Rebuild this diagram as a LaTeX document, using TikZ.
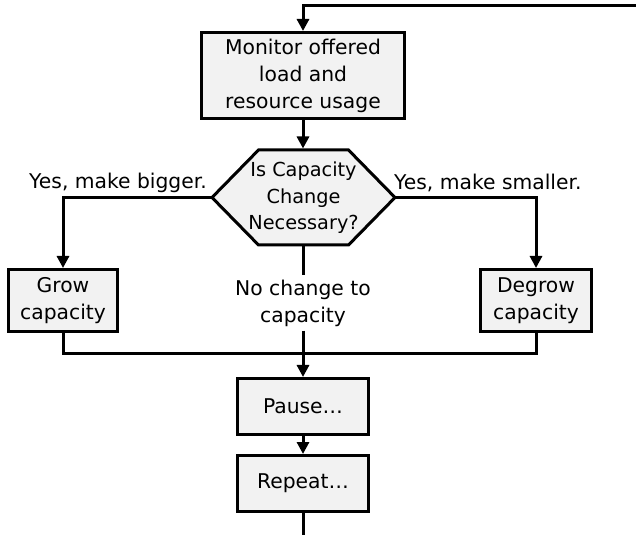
\documentclass[tikz,border=0pt]{standalone}
\usepackage{fontspec}
\setmainfont{DejaVu Sans}
\usetikzlibrary{arrows.meta}
\definecolor{boxfill}{HTML}{F2F2F2}
\begin{document}
\begin{tikzpicture}[x=1pt,y=1pt,
  every node/.style={font=\fontsize{20.3}{27}\selectfont},
  box/.style={draw=black,line width=3pt,fill=boxfill,align=center,inner sep=0pt},
  conn/.style={line width=3pt},
  arr/.style={conn,-{Triangle[width=12pt,length=12pt]}},
  lab/.style={inner sep=0pt}]
\useasboundingbox (0,0) rectangle (636,535);
% boxes
\node[box,minimum width=203pt,minimum height=86pt] (mon) at (303,459.5) {Monitor offered\\load and\\resource usage};
\node[box,minimum width=109pt,minimum height=62pt] (grow) at (63,234.5) {Grow\\capacity};
\node[box,minimum width=111pt,minimum height=62pt] (degrow) at (536,234.5) {Degrow\\capacity};
\node[box,minimum width=131pt,minimum height=56pt] (pause) at (303,128.5) {Pause\ldots};
\node[box,minimum width=131pt,minimum height=56pt] (repeat) at (303,51.5) {Repeat\ldots};
% decision hexagon
\coordinate (hL) at (212,337.5);
\coordinate (hR) at (395,337.5);
\coordinate (hT) at (303,386.5);
\coordinate (hB) at (303,288.5);
\draw[box] (hL) -- (258.5,385) -- (348.5,385) -- (hR) -- (348.5,290) -- (258.5,290) -- cycle;
\node[lab,align=center,font=\fontsize{19.3}{26.5}\selectfont] (dec) at (303.5,337) {Is Capacity\\Change\\Necessary?};
% labels
\node[lab,anchor=base east] (ybig) at (207,346) {Yes, make bigger.};
\node[lab,anchor=base west] (ysmall) at (394,345) {Yes, make smaller.};
\node[lab,align=center,inner sep=4pt] (nochg) at (303,232) {No change to\\capacity};
% connectors
\coordinate (topR) at (636,529);
\coordinate (m) at (303,181);
\coordinate (bot) at (303,0);
\draw[arr] (topR) -| (mon.north);
\draw[arr] (mon.south) -- (hT);
\draw[arr] (hL) -| (grow.north);
\draw[arr] (hR) -| (degrow.north);
\draw[conn] (hB) -- (nochg.north);
\draw[conn] (nochg.south) -- (m);
\draw[conn] (grow.south) |- (m);
\draw[conn] (degrow.south) |- (m);
\draw[arr] (m) -- (pause.north);
\draw[arr] (pause.south) -- (repeat.north);
\draw[conn] (repeat.south) -- (bot);
\end{tikzpicture}
\end{document}
